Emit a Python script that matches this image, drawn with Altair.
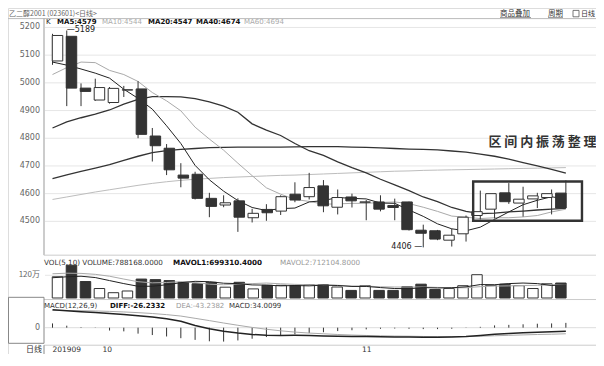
import altair as alt
import pandas as pd

# ---------------- data ----------------
idx = list(range(1, 38))
opens = [5079, 5168, 4981, 4938, 4929, 4974, 4978, 4808, 4764, 4667, 4670, 4583, 4559, 4574, 4513, 4543, 4537,
         4598, 4589, 4628, 4551, 4588, 4569, 4570, 4557, 4570, 4468, 4466, 4432, 4455, 4521, 4544, 4603, 4566,
         4581, 4586, 4602]
closes = [5171, 4981, 4969, 4983, 4980, 4975, 4814, 4773, 4686, 4656, 4583, 4554, 4567, 4515, 4529, 4531, 4589,
          4577, 4622, 4556, 4586, 4574, 4570, 4544, 4550, 4470, 4457, 4436, 4450, 4515, 4535, 4600, 4571, 4580,
          4592, 4600, 4548]
highs = [5177, 5189, 4998, 5015, 4985, 4989, 5006, 4837, 4779, 4710, 4679, 4603, 4594, 4583, 4545, 4562, 4594,
         4641, 4675, 4649, 4615, 4600, 4577, 4594, 4582, 4571, 4488, 4469, 4473, 4521, 4611, 4600, 4638, 4625,
         4603, 4615, 4648]
lows = [5065, 4916, 4916, 4935, 4925, 4949, 4800, 4716, 4667, 4623, 4579, 4515, 4551, 4462, 4496, 4502, 4523,
        4569, 4579, 4533, 4525, 4550, 4504, 4536, 4504, 4467, 4406, 4432, 4409, 4427, 4507, 4510, 4563, 4517,
        4548, 4525, 4548]
ma5 = [5075, 5064, 5050, 5035, 5017, 4977, 4944, 4905, 4845, 4781, 4702, 4650, 4609, 4575, 4550, 4539, 4546,
       4548, 4570, 4575, 4586, 4583, 4581, 4566, 4565, 4541, 4518, 4491, 4473, 4466, 4479, 4507, 4534, 4560,
       4576, 4589, 4579]
ma10 = [5030, 5055, 5075, 5073, 5045, 5030, 5005, 4965, 4935, 4899, 4840, 4797, 4757, 4710, 4665, 4621, 4598,
        4579, 4572, 4562, 4563, 4565, 4565, 4568, 4570, 4564, 4551, 4536, 4519, 4515, 4510, 4513, 4513, 4516,
        4521, 4534, 4544]
ma20 = [4837, 4859, 4874, 4887, 4902, 4923, 4940, 4950, 4950, 4949, 4943, 4931, 4916, 4894, 4852, 4829, 4810,
        4781, 4755, 4738, 4715, 4694, 4675, 4652, 4632, 4611, 4588, 4571, 4550, 4536, 4528, 4530, 4534, 4537,
        4541, 4544, 4547]
ma40 = [4654, 4668, 4680, 4692, 4705, 4720, 4735, 4748, 4755, 4760, 4763, 4766, 4767, 4768, 4768, 4768, 4768,
        4769, 4770, 4770, 4770, 4768, 4767, 4765, 4763, 4761, 4760, 4758, 4754, 4750, 4743, 4735, 4725, 4712,
        4700, 4688, 4674]
ma60 = [4579, 4588, 4597, 4606, 4614, 4622, 4630, 4637, 4643, 4648, 4652, 4655, 4658, 4660, 4662, 4664, 4666,
        4667, 4669, 4671, 4673, 4675, 4677, 4679, 4681, 4682, 4684, 4685, 4686, 4687, 4688, 4689, 4690, 4691,
        4692, 4693, 4694]
vol = [1.12, 1.73, 0.87, 0.50, 0.28, 0.37, 1.00, 0.97, 0.92, 0.83, 0.75, 0.83, 0.57, 0.83, 0.48, 0.67, 0.67,
       0.65, 0.70, 0.70, 0.58, 0.40, 0.65, 0.40, 0.40, 0.60, 0.73, 0.45, 0.50, 0.65, 1.23, 0.67, 0.73, 0.65,
       0.50, 0.75, 0.79]
mavol1 = [1.07, 1.12, 1.15, 1.08, 0.92, 0.76, 0.62, 0.62, 0.70, 0.81, 0.88, 0.86, 0.78, 0.76, 0.69, 0.68, 0.64,
          0.66, 0.64, 0.68, 0.66, 0.61, 0.61, 0.55, 0.50, 0.49, 0.55, 0.53, 0.54, 0.59, 0.71, 0.70, 0.76, 0.79,
          0.76, 0.66, 0.70]
mavol2 = [1.28, 1.31, 1.30, 1.25, 1.15, 1.00, 0.86, 0.80, 0.82, 0.86, 0.82, 0.73, 0.70, 0.74, 0.76, 0.79, 0.75,
          0.72, 0.70, 0.69, 0.67, 0.63, 0.63, 0.59, 0.58, 0.58, 0.58, 0.56, 0.54, 0.54, 0.60, 0.63, 0.64, 0.66,
          0.67, 0.69, 0.71]
diff = [126, 120, 113, 107, 100, 93, 85, 75, 63, 45, 15, -8, -25, -38, -48, -53, -55, -54, -55, -58, -60, -62,
        -63, -64, -65, -66, -68, -68, -66, -62, -55, -47, -41, -36, -32, -29, -26]
dea = [122, 121, 120, 118, 115, 111, 106, 100, 92, 82, 66, 50, 33, 17, 2, -11, -22, -31, -38, -43, -48, -52,
       -55, -57, -59, -60, -62, -63, -63, -62, -60, -57, -54, -51, -48, -46, -43]
macd_hist = [30, 14, 4, 2, -20, -26, -42, -52, -62, -74, -86, -96, -98, -90, -78, -66, -56, -46, -38, -32, -24,
             -18, -12, -8, -6, -8, -10, -10, -8, -2, 6, 16, 20, 24, 28, 30, 34]

price_ticks = [4500, 4600, 4700, 4800, 4900, 5000, 5100, 5200]
vol_ticks = [1.2]
vol_tick_labels = ["120万"]
date_labels = ["201909", "10", "11"]
date_at = [1.0, 4.5, 22.7]

title_text = "乙二醇2001 (023601)<日线>"
menu_items = ["商品叠加", "周期", "日线"]
legend_parts = ["K", "MA5:4579", "MA10:4544", "MA20:4547", "MA40:4674", "MA60:4694"]
vol_parts = ["VOL(5,10) VOLUME:788168.0000", "MAVOL1:699310.4000", "MAVOL2:712104.8000"]
macd_parts = ["MACD(12,26,9)", "DIFF:-26.2332", "DEA:-43.2382", "MACD:34.0099"]
high_note = "—5189"
low_note = "4406 —"
callout = list("区间内振荡整理")
box_x = [30.5, 38.13]
box_p = [4502, 4644]

# ---------------- layout helpers ----------------
W, H = 588, 346
LAT = "DejaVu Sans"
CJK = "Noto Sans CJK SC"
INK = "#333333"


def sx(r):
    return r - 8


def sy(r):
    return (r - 3) * 0.958


X = alt.Scale(domain=[1, 37], range=[sx(52.5), sx(52.5 + 14.26 * 36)], nice=False, zero=False)
PY = alt.Scale(domain=[4500, 5200], range=[sy(225.7), sy(23.3)], nice=False, zero=False)
VY = alt.Scale(domain=[0, 1.2], range=[sy(305.7), sy(282)], nice=False, zero=False)
MY = alt.Scale(domain=[0, 100], range=[sy(336.7), sy(336.7 - 14.8)], nice=False, zero=False)

df = pd.DataFrame({
    "i": idx, "open": opens, "close": closes, "high": highs, "low": lows,
    "ma5": ma5, "ma10": ma10, "ma20": ma20, "ma40": ma40, "ma60": ma60,
    "vol": vol, "mavol1": mavol1, "mavol2": mavol2,
    "diff": diff, "dea": dea, "hist": macd_hist,
})
df["fill"] = ["#ffffff" if c >= o else INK for o, c in zip(opens, closes)]
df["zero"] = 0

base = alt.Chart(df)
xe = alt.X("i:Q", scale=X, axis=None)


def one(s):
    return alt.Chart(pd.DataFrame({"t": [s]}))


def txt(s, x, y, size=7.2, color=INK, weight="normal", align="left", font=LAT):
    return one(s).mark_text(align=align, baseline="middle", fontSize=size, color=color,
                            fontWeight=weight, font=font).encode(
        text="t:N", x=alt.value(x), y=alt.value(y))


def hline(x1, x2, y, color="#cccccc", w=1):
    return one("").mark_rule(color=color, strokeWidth=w).encode(
        x=alt.value(x1), x2=alt.value(x2), y=alt.value(y))


def vline(x, y1, y2, color="#999999", w=1):
    return one("").mark_rule(color=color, strokeWidth=w).encode(
        x=alt.value(x), y=alt.value(y1), y2=alt.value(y2))


layers = []
TOP = 5.6  # header text centre (svg px)
HDR = 10.6  # header separator (svg px)

# chrome: header
layers.append(txt(title_text, 1, TOP, size=7, color="#666666", font=CJK))
layers.append(txt(menu_items[0], sx(500), TOP, size=7.5, color=INK, font=CJK))
layers.append(txt(menu_items[1], sx(548), TOP, size=7.5, color=INK, font=CJK))
layers.append(hline(sx(500), sx(531), TOP + 4, color="#777777", w=0.8))
layers.append(hline(sx(548), sx(563), TOP + 4, color="#777777", w=0.8))
layers.append(one("").mark_rect(fillOpacity=0, stroke="#555555", strokeWidth=0.8).encode(
    x=alt.value(565), x2=alt.value(571), y=alt.value(TOP - 3.2), y2=alt.value(TOP + 3.2)))
layers.append(txt(menu_items[2], 573, TOP, size=7, color=INK, font=CJK))
layers.append(hline(0, W, HDR, color="#bbbbbb"))

# panel frames
layers.append(vline(sx(44), HDR, sy(261)))
layers.append(hline(sx(44), W, sy(261), color="#cccccc"))
layers.append(hline(sx(44), W, sy(307.3), color="#cccccc"))
layers.append(hline(sx(44), W, sy(355), color="#cccccc"))
layers.append(one("").mark_rect(fillOpacity=0, stroke="#888888", strokeWidth=1).encode(
    x=alt.value(0.5), x2=alt.value(sx(44)), y=alt.value(sy(305)), y2=alt.value(sy(353))))
layers.append(vline(sx(44), sy(355), H, color="#888888"))

# price grid and labels
pt = pd.DataFrame({"p": price_ticks, "lab": [str(v) for v in price_ticks]})
layers.append(alt.Chart(pt).mark_rule(color="#e6e6e6", strokeWidth=1).encode(
    y=alt.Y("p:Q", scale=PY, axis=None), x=alt.value(sx(45)), x2=alt.value(W)))
layers.append(alt.Chart(pt).mark_text(align="right", baseline="middle", fontSize=8, font=LAT,
                                      color="#666666").encode(
    y=alt.Y("p:Q", scale=PY, axis=None), x=alt.value(sx(40)), text="lab:N"))

# volume grid and label
vt = pd.DataFrame({"v": vol_ticks, "lab": vol_tick_labels})
layers.append(alt.Chart(vt).mark_rule(color="#e6e6e6", strokeWidth=1).encode(
    y=alt.Y("v:Q", scale=VY, axis=None), x=alt.value(sx(45)), x2=alt.value(W)))
layers.append(alt.Chart(vt).mark_text(align="right", baseline="middle", fontSize=8, font=CJK,
                                      color="#666666").encode(
    y=alt.Y("v:Q", scale=VY, axis=None), x=alt.value(sx(40)), text="lab:N"))

# macd zero line and label
zt = pd.DataFrame({"z": [0], "lab": ["0"]})
layers.append(alt.Chart(zt).mark_rule(color="#dddddd", strokeWidth=1).encode(
    y=alt.Y("z:Q", scale=MY, axis=None), x=alt.value(sx(45)), x2=alt.value(W)))
layers.append(alt.Chart(zt).mark_text(align="right", baseline="middle", fontSize=8, font=LAT,
                                      color="#666666").encode(
    y=alt.Y("z:Q", scale=MY, axis=None), x=alt.value(sx(40)), text="lab:N"))

# moving averages (drawn under candles)
for col, colr, w in [("ma60", "#bdbdbd", 1), ("ma40", "#333333", 1.3), ("ma20", "#333333", 1.3),
                     ("ma10", "#aaaaaa", 1), ("ma5", "#222222", 1)]:
    layers.append(base.mark_line(color=colr, strokeWidth=w).encode(
        x=xe, y=alt.Y(f"{col}:Q", scale=PY, axis=None)))

# candles
layers.append(base.mark_rule(color=INK, strokeWidth=1).encode(
    x=xe, y=alt.Y("low:Q", scale=PY, axis=None), y2="high:Q"))
layers.append(base.mark_bar(width=10.5, stroke=INK, strokeWidth=1).encode(
    x=xe, y=alt.Y("open:Q", scale=PY, axis=None), y2="close:Q", fill=alt.Fill("fill:N", scale=None)))

# annotations
layers.append(alt.Chart(pd.DataFrame({"i": [2], "p": [5189], "t": [high_note]})).mark_text(
    align="left", baseline="middle", fontSize=8, font=LAT, color="#222222", dx=0).encode(
    x=xe, y=alt.Y("p:Q", scale=PY, axis=None), text="t:N"))
layers.append(alt.Chart(pd.DataFrame({"i": [27], "p": [4406], "t": [low_note]})).mark_text(
    align="right", baseline="middle", fontSize=8, font=LAT, color="#222222", dx=-1).encode(
    x=xe, y=alt.Y("p:Q", scale=PY, axis=None), text="t:N"))
layers.append(alt.Chart(pd.DataFrame({"x1": [box_x[0]], "x2": [box_x[1]], "p1": [box_p[0]], "p2": [box_p[1]]}))
              .mark_rect(fillOpacity=0, stroke="#333333", strokeWidth=2.4).encode(
    x=alt.X("x1:Q", scale=X, axis=None), x2="x2:Q",
    y=alt.Y("p1:Q", scale=PY, axis=None), y2="p2:Q"))
cdf = pd.DataFrame({"k": list(range(len(callout))), "c": callout})
layers.append(alt.Chart(cdf).mark_text(align="center", baseline="middle", fontSize=13, font=CJK,
                                       fontWeight="bold", color="#333333").encode(
    x=alt.X("k:Q", scale=alt.Scale(domain=[0, 6], range=[sx(495), sx(590)], nice=False, zero=False),
            axis=None),
    y=alt.value(sy(142.5)), text="c:N"))

# legend row
leg_x = [46, 57, 102, 148, 196, 244]
leg_style = [("#222222", "normal"), ("#111111", "bold"), ("#aaaaaa", "normal"),
             ("#111111", "bold"), ("#111111", "bold"), ("#aaaaaa", "normal")]
for s, xx, (c, wt) in zip(legend_parts, leg_x, leg_style):
    layers.append(txt(s, sx(xx), sy(17.8), size=7, color=c, weight=wt))

# volume panel
layers.append(base.mark_bar(width=10.5, stroke=INK, strokeWidth=1).encode(
    x=xe, y=alt.Y("vol:Q", scale=VY, axis=None), y2="zero:Q", fill=alt.Fill("fill:N", scale=None)))
layers.append(base.mark_line(color="#aaaaaa", strokeWidth=1).encode(
    x=xe, y=alt.Y("mavol2:Q", scale=VY, axis=None)))
layers.append(base.mark_line(color="#222222", strokeWidth=1).encode(
    x=xe, y=alt.Y("mavol1:Q", scale=VY, axis=None)))
for s, xx, (c, wt) in zip(vol_parts, [44, 173, 280], [("#333333", "normal"), ("#111111", "bold"),
                                                   ("#999999", "normal")]):
    layers.append(txt(s, sx(xx), sy(269), size=7.2, color=c, weight=wt))

# macd panel
layers.append(base.mark_rule(color="#333333", strokeWidth=1).encode(
    x=xe, y=alt.Y("hist:Q", scale=MY, axis=None), y2="zero:Q"))
layers.append(base.mark_line(color="#aaaaaa", strokeWidth=1).encode(
    x=xe, y=alt.Y("dea:Q", scale=MY, axis=None)))
layers.append(base.mark_line(color="#222222", strokeWidth=1.5).encode(
    x=xe, y=alt.Y("diff:Q", scale=MY, axis=None)))
for s, xx, (c, wt) in zip(macd_parts, [44, 110, 176, 229], [("#333333", "normal"), ("#111111", "bold"),
                                                          ("#999999", "normal"), ("#333333", "normal")]):
    layers.append(txt(s, sx(xx), sy(314), size=7, color=c, weight=wt))

# bottom date labels
layers.append(txt("日线", sx(42), sy(360), size=8, color="#333333", align="right", font=CJK))
dl = pd.DataFrame({"i": date_at, "t": date_labels})
layers.append(alt.Chart(dl).mark_text(align="left", baseline="middle", fontSize=7.5, font=LAT,
                                      color="#333333").encode(
    x=xe, y=alt.value(sy(360)), text="t:N"))

chart = alt.layer(*layers).resolve_scale(x="independent", y="independent").properties(
    width=W, height=H, padding=0, autosize=alt.AutoSizeParams(type="none")
).configure_view(stroke=None).configure(background="white")

chart.save("out.html", embed_options={"renderer": "svg", "actions": False})
